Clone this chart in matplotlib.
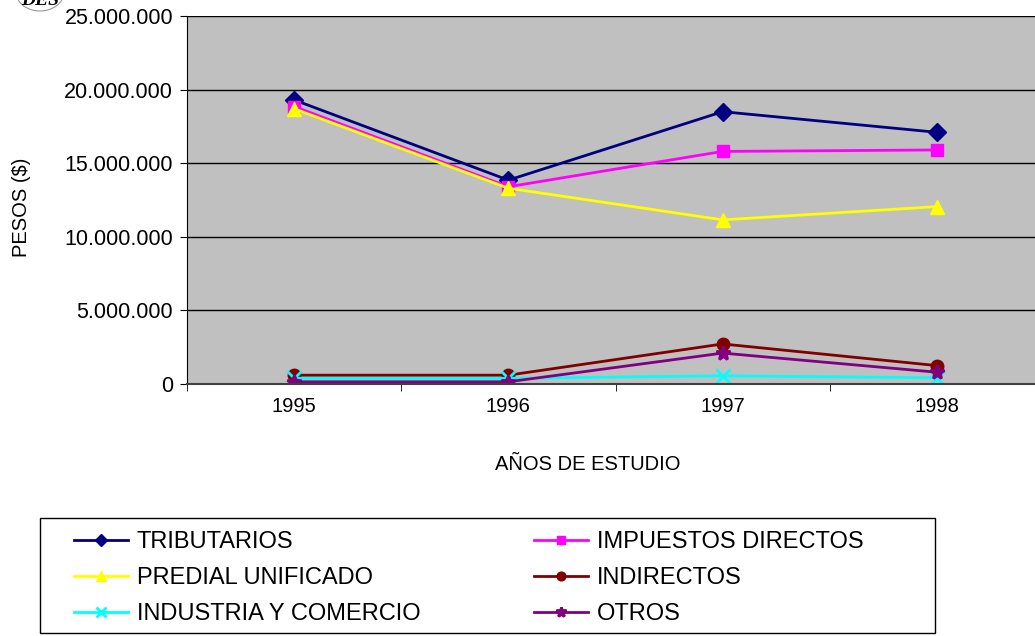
import matplotlib
matplotlib.use("Agg")
import matplotlib.pyplot as plt
from matplotlib.patches import Ellipse, Rectangle
import numpy as np

plt.rcParams['font.family'] = ['Liberation Sans', 'DejaVu Sans']

years = ['1995', '1996', '1997', '1998']

tributarios = [19300000, 13850000, 18500000, 17100000]
impuestos_directos = [18850000, 13400000, 15800000, 15900000]
predial_unificado = [18700000, 13300000, 11150000, 12050000]
indirectos = [600000, 600000, 2720000, 1250000]
industria_comercio = [380000, 380000, 560000, 420000]
otros = [150000, 150000, 2100000, 800000]

series = [
    ('TRIBUTARIOS', tributarios, '#000080', 'D', 9),
    ('IMPUESTOS DIRECTOS', impuestos_directos, '#FF00FF', 's', 9),
    ('PREDIAL UNIFICADO', predial_unificado, '#FFFF00', '^', 10),
    ('INDIRECTOS', indirectos, '#800000', 'o', 9),
    ('INDUSTRIA Y COMERCIO', industria_comercio, '#00FFFF', 'x', 10),
    ('OTROS', otros, '#800080', '*', 10),
]

W, H = 1035, 636
fig = plt.figure(figsize=(W / 100, H / 100), dpi=100)
ax = fig.add_axes([187 / W, 1 - 384 / H, (1044 - 187) / W, (384 - 16) / H])
ax.set_facecolor('#C0C0C0')

x = np.arange(len(years))
handles = []
for name, vals, color, marker, ms in series:
    if marker in ('x', '*'):
        h, = ax.plot(x, vals, color=color, linewidth=2, marker=marker,
                     markersize=ms, markeredgewidth=2, label=name)
    else:
        h, = ax.plot(x, vals, color=color, linewidth=2, marker=marker,
                     markersize=ms, markeredgecolor=color, label=name)
    handles.append(h)

ax.set_xlim(-0.5, len(years) - 0.5)
ax.set_ylim(0, 25000000)
ax.set_yticks(np.arange(0, 25000001, 5000000))
ax.set_yticklabels(['{:,}'.format(v).replace(',', '.') for v in range(0, 25000001, 5000000)])
ax.yaxis.grid(True, color='black', linewidth=1)
ax.set_axisbelow(True)

ax.set_xticks(x)
ax.set_xticklabels(years)
ax.set_xticks(np.arange(-0.5, len(years)), minor=True)
ax.tick_params(axis='x', which='major', length=0, pad=9, labelsize=14.5)
ax.tick_params(axis='x', which='minor', length=5, direction='out')
ax.tick_params(axis='y', length=5, direction='out', labelsize=15.5, pad=5)

for s in ['top', 'right']:
    ax.spines[s].set_visible(False)
ax.spines['left'].set_color('black')
ax.spines['bottom'].set_color('#404040')
ax.spines['bottom'].set_linewidth(1.5)

fig.text(22 / W, 1 - 207 / H, 'PESOS ($)', rotation=90, ha='center', va='center', fontsize=14.5)
fig.text(588 / W, 1 - 465 / H, 'AÑOS DE ESTUDIO', ha='center', va='center', fontsize=14.5)

# legend box drawn separately, entries placed inside it
fig.patches.append(Rectangle((40 / W, 3 / H), (935 - 40) / W, 115 / H,
                             transform=fig.transFigure, facecolor='white',
                             edgecolor='black', linewidth=1))
order = [0, 2, 4, 1, 3, 5]
leg = fig.legend([handles[i] for i in order], [series[i][0] for i in order],
                 loc='upper left', bbox_to_anchor=(74 / W, 1 - 531 / H),
                 ncol=2, fontsize=17, frameon=False, handlelength=2.3,
                 handletextpad=0.35, borderaxespad=0, borderpad=0,
                 labelspacing=0.6, columnspacing=4.82, markerscale=0.7)

# logo fragment in the top-left corner
logo = Ellipse((40 / W, 1 + 8 / H), 48 / W, 38 / H, transform=fig.transFigure,
               facecolor='white', edgecolor='#999999', linewidth=0.8)
fig.patches.append(logo)
fig.text(40 / W, 1 - 5 / H, 'DES', ha='center', va='baseline', fontsize=14,
         style='italic', fontweight='bold', family='Liberation Serif')

fig.savefig('out.png', dpi=100)
